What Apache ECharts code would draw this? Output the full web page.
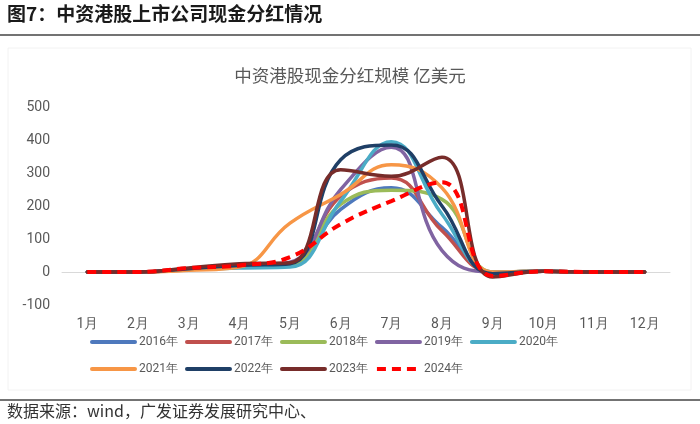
<!DOCTYPE html>
<html><head><meta charset="utf-8">
<script src="https://cdn.jsdelivr.net/npm/echarts@6/dist/echarts.min.js"></script>
<style>html,body{margin:0;padding:0;background:#fff;}#c{width:700px;height:424px;}</style>
</head><body><div id="c"></div>
<script>
var months = ['1月','2月','3月','4月','5月','6月','7月','8月','9月','10月','11月','12月'];
var yTicks = [-100, 0, 100, 200, 300, 400, 500];
var seriesNames = ['2016年','2017年','2018年','2019年','2020年','2021年','2022年','2023年','2024年'];
var colors = ['#4e79bd','#c0504d','#9bbb59','#8064a2','#4bacc6','#f79646','#1f3f66','#772c2a','#ff0000'];
var v2016 = [0, 0, 8, 15, 20, 190, 255, 135, 0, 2, 0, 0];
var v2017 = [0, 0, 8, 15, 25, 230, 285, 125, 0, 2, 0, 0];
var v2018 = [0, 0, 8, 15, 22, 205, 248, 220, 0, 2, 0, 0];
var v2019 = [0, 0, 8, 18, 30, 250, 378, 65, 0, 2, 0, 0];
var v2020 = [0, 0, 8, 12, 15, 215, 395, 175, 0, 2, 0, 0];
var v2021 = [0, 0, 5, 15, 148, 235, 325, 255, 0, 2, 0, 0];
var v2022 = [0, 0, 10, 20, 25, 340, 385, 200, -5, 2, 0, 0];
var v2023 = [0, 0, 12, 25, 28, 310, 290, 348, -15, 2, 0, 0];
var v2024 = [0, 0, 12, 20, 45, 145, 215, 272, -12, 2, 0, 0];
var allValues = [v2016, v2017, v2018, v2019, v2020, v2021, v2022, v2023, v2024];

var chart = echarts.init(document.getElementById('c'), null, {renderer: 'canvas'});
var series = seriesNames.map(function (n, i) {
  var dashed = i === 8;
  return {
    name: n, type: 'line', data: allValues[i], smooth: 0.45,
    symbol: 'none', z: 2 + i,
    lineStyle: {width: dashed ? 4 : 3.5, color: colors[i], type: dashed ? [9, 6] : 'solid', cap: dashed ? 'butt' : 'round'},
    itemStyle: {color: colors[i]}
  };
});
var legendCommon = {
  left: 85, itemWidth: 43, itemHeight: 14, itemGap: 7,
  itemStyle: {opacity: 0},
  lineStyle: {width: 4},
  textStyle: {fontSize: 12, color: '#595959', fontFamily: 'Roboto', padding: [0, 0, 0, -1]}
};
chart.setOption({
  animation: false,
  color: colors,
  graphic: [
    {type: 'text', left: 7, top: 4, style: {text: '图7：中资港股上市公司现金分红情况', font: 'bold 19px "Noto Sans CJK SC"', fill: '#1a1a1a'}},
    {type: 'line', shape: {x1: 0, y1: 35, x2: 700, y2: 35}, style: {stroke: '#444', lineWidth: 1.5}},
    {type: 'rect', shape: {x: 8, y: 48, width: 683, height: 342}, style: {fill: 'none', stroke: '#f2f2f2', lineWidth: 1}},
    {type: 'line', shape: {x1: 0, y1: 400, x2: 700, y2: 400}, style: {stroke: '#444', lineWidth: 1.5}},
    {type: 'text', left: 7, top: 403, style: {text: '数据来源：wind，广发证券发展研究中心、', font: '16px "Noto Sans CJK SC"', fill: '#333'}}
  ],
  title: {
    text: '中资港股现金分红规模 亿美元', left: 'center', top: 62,
    textStyle: {fontSize: 17.5, fontWeight: 'normal', color: '#595959', fontFamily: 'Noto Sans CJK SC'}
  },
  legend: [
    Object.assign({data: seriesNames.slice(0, 5), top: 331}, legendCommon),
    Object.assign({data: seriesNames.slice(5), top: 358}, legendCommon)
  ],
  grid: {left: 62, right: 30, top: 107, bottom: 119, containLabel: false},
  xAxis: {
    type: 'category', data: months, boundaryGap: true,
    axisLine: {show: true, onZero: true, lineStyle: {color: '#d9d9d9', width: 1}},
    axisTick: {show: false},
    axisLabel: {color: '#595959', fontSize: 14, fontFamily: 'Roboto', margin: 12}
  },
  yAxis: {
    type: 'value', min: -100, max: 500, interval: 100,
    axisLine: {show: false}, axisTick: {show: false},
    splitLine: {show: false},
    axisLabel: {color: '#595959', fontSize: 14, fontFamily: 'Roboto', margin: 12}
  },
  series: series
});
</script></body></html>
